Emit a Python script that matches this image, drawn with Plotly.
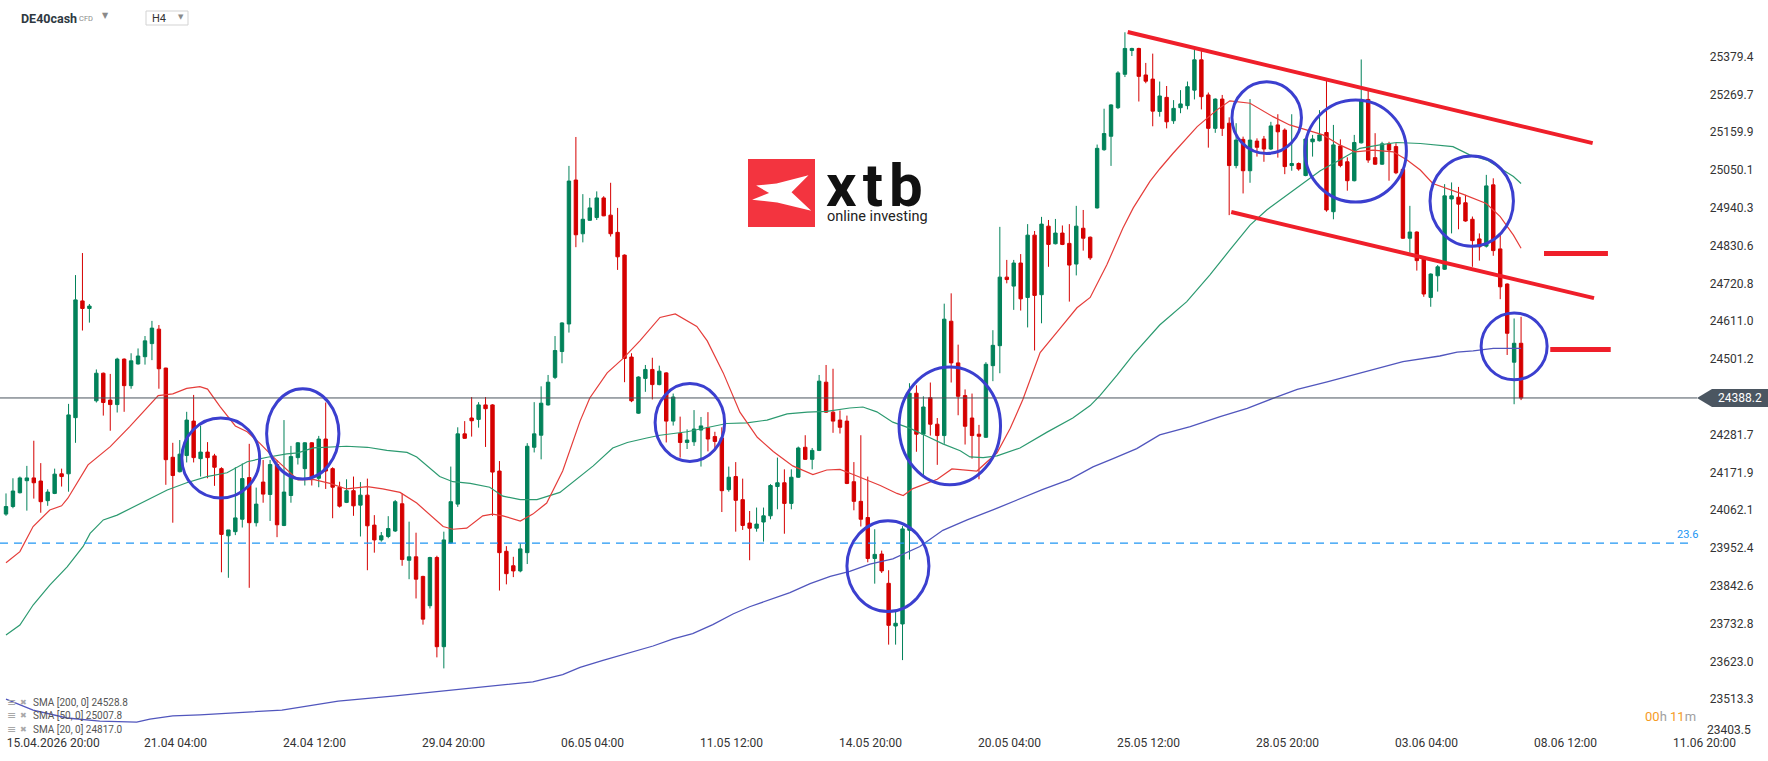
import plotly.graph_objects as go

# ---------------- data ----------------
opens = [24051,24073,24113,24148,24156,24147,24090,24111,24168,24168,24331,24670,24648,24380,24460,24382,24369,24501,24424,24487,
         24508,24546,24588,24475,24216,24174,24221,24321,24212,24231,24220,24183,23988,24000,24036,24157,24026,24144,24108,24195,
         24018,24105,24215,24183,24258,24155,24269,24183,24129,24085,24119,24077,24106,24019,23976,23986,24002,24081,23917,23927,
         23870,23785,23925,23666,23967,24080,24284,24330,24326,24368,24368,24176,23943,23901,23886,23939,24245,24280,24368,24448,
         24523,24603,25021,24865,24904,24912,24969,24919,24869,24803,24507,24344,24445,24471,24427,24461,24321,24285,24259,24261,
         24295,24302,24276,24272,24122,24160,24093,24025,24010,24028,24046,24131,24142,24082,24158,24245,24210,24236,24434,24347,
         24324,24321,24145,24088,24041,23922,23935,23850,23726,23732,24004,24402,24283,24389,24312,24279,24611,24490,24395,24330,
         24283,24274,24482,24540,24739,24713,24780,24680,24861,24688,24887,24836,24867,24837,24777,24881,24855,24940,25109,25148,
         25231,25328,25397,25403,25326,25314,25220,25261,25193,25231,25237,25282,25370,25268,25171,25256,25186,25063,25139,25048,
         25134,25140,25111,25181,25166,25063,25069,25034,25132,25135,25159,24929,25120,25074,25019,25129,25255,25086,25067,25126,
         25118,25052,24852,24870,24797,24680,24743,24762,24966,24971,24955,24907,24850,24829,25007,24821,24719,24492,24547]
highs = [24111,24155,24160,24191,24264,24199,24123,24183,24183,24371,24745,24809,24661,24471,24462,24458,24505,24503,24518,24532,
         24568,24612,24600,24476,24258,24266,24348,24397,24308,24260,24226,24187,24005,24187,24198,24255,24128,24208,24208,24208,
         24324,24249,24260,24260,24260,24278,24375,24187,24145,24152,24160,24144,24154,24048,23999,24045,24092,24111,24029,23997,
         23872,23927,23930,24000,24189,24303,24321,24391,24376,24391,24370,24205,23958,23927,23966,24257,24376,24422,24455,24568,
         24608,25062,25146,24980,24969,24988,24974,25013,24940,24805,24518,24451,24484,24505,24482,24463,24401,24334,24297,24353,
         24333,24347,24290,24303,24189,24202,24154,24060,24070,24070,24138,24215,24181,24181,24247,24280,24243,24455,24484,24473,
         24352,24337,24202,24280,24160,24007,23945,23888,23769,24016,24431,24425,24393,24433,24330,24662,24692,24543,24413,24401,
         24310,24492,24585,24885,24789,24789,24806,24893,24873,24914,24905,24908,24889,24893,24946,24934,24857,25124,25228,25241,
         25337,25450,25405,25405,25361,25388,25307,25294,25253,25282,25307,25400,25396,25275,25258,25268,25203,25186,25147,25256,
         25142,25149,25190,25212,25171,25212,25072,25142,25152,25224,25311,25181,25139,25087,25152,25371,25287,25157,25132,25132,
         25128,25054,24946,24872,24800,24750,24774,25009,25014,25001,24978,24915,24866,25036,25026,24866,24721,24619,24624]
lows = [24046,24068,24111,24061,24096,24055,24075,24109,24131,24116,24258,24584,24607,24375,24337,24293,24346,24348,24415,24485,
        24485,24498,24415,24136,24026,24172,24201,24201,24160,24155,24133,23882,23866,23990,24012,23837,24015,24084,24031,23984,
        24016,24084,24195,24134,24134,24129,24124,24039,24070,24083,24046,23986,23888,23939,23971,23981,23999,23901,23862,23806,
        23730,23777,23635,23603,23965,24072,24270,24276,24302,24246,24046,23829,23847,23868,23882,23906,24230,24210,24366,24443,
        24489,24578,24826,24840,24903,24905,24916,24857,24760,24434,24376,24342,24406,24384,24425,24259,24308,24215,24240,24249,
        24189,24233,24238,24057,24116,24000,24005,23917,24000,23971,24036,24065,23994,24065,24156,24208,24181,24234,24345,24287,
        24285,24138,24062,24015,23911,23849,23880,23672,23672,23627,23919,24232,24158,24279,24194,24255,24433,24338,24253,24212,
        24152,24272,24437,24460,24721,24644,24642,24593,24526,24605,24769,24834,24832,24668,24744,24816,24789,24938,25106,25062,
        25227,25320,25381,25249,25302,25177,25205,25171,25184,25215,25226,25255,25226,25115,25158,25149,24919,25055,24982,25013,
        25089,25074,25108,25086,25038,25048,25048,25032,25089,25133,24929,24907,25058,24990,25017,25127,25071,25065,25065,25019,
        25038,24850,24810,24758,24682,24653,24697,24760,24866,24878,24900,24769,24787,24825,24801,24675,24513,24370,24382]
closes = [24073,24118,24156,24156,24142,24087,24115,24167,24160,24339,24673,24648,24655,24460,24375,24369,24501,24424,24496,24510,
          24554,24591,24473,24209,24163,24225,24324,24215,24231,24215,24187,23992,24005,24040,24154,24026,24080,24109,24195,24020,
          24115,24218,24258,24258,24158,24269,24176,24129,24074,24119,24075,24106,24017,23976,23988,24009,24087,23919,23927,23862,
          23746,23925,23666,23976,24087,24284,24271,24322,24368,24357,24173,23939,23878,23886,23950,24248,24284,24373,24434,24526,
          24606,25018,24862,24907,24940,24969,24917,24865,24798,24503,24380,24449,24471,24427,24466,24321,24391,24259,24266,24298,
          24307,24269,24262,24119,24158,24091,24018,24010,24022,24046,24134,24142,24082,24158,24243,24210,24236,24437,24347,24321,
          24303,24140,24088,24036,23922,23934,23886,23728,23734,24008,24402,24283,24362,24312,24279,24617,24490,24393,24306,24279,
          24277,24486,24541,24739,24732,24780,24676,24861,24686,24893,24834,24867,24834,24774,24887,24852,24795,25113,25156,25239,
          25332,25403,25403,25322,25308,25221,25265,25190,25229,25242,25292,25370,25263,25171,25256,25171,25063,25137,25048,25137,
          25116,25111,25178,25161,25060,25069,25053,25140,25140,25152,24934,25123,25063,25019,25130,25255,25079,25067,25126,25108,
          25042,24852,24870,24787,24690,24748,24769,24975,24975,24951,24902,24845,24827,25004,24816,24711,24576,24547,24388.2]

sma20_x = [0,2,3.9,6.3,8,8.9,11.8,15,17.8,19.7,21.9,24,26,27.9,29,30.8,33,34.7,36.5,38.4,40.4,42,44.2,46.6,49,52,54.2,56.7,
           59.1,61.4,62.9,64.3,66.3,68.6,70,71.5,74,75.8,77.8,80.1,82.6,84,86.5,88.8,91.2,94.1,96.3,99.4,100.9,103.2,105.6,
           108.1,110.4,113.2,116.1,118.1,120,121.9,123.9,125.8,128.2,129.1,130.5,132.5,134,136.1,139.7,142.6,144.5,146.3,
           148.8,151.7,154.1,156,158.4,160.7,162.2,164.6,166,167.9,171.4,174.2,176.1,179,182.3,184.7,187.2,189.5,191.9,
           194.1,196.7,199.6,201.6,203.5,205.3,207.3,209.6,213,215,216.9,218]
sma20_y = [23910,23942,24015,24063,24075,24097,24194,24247,24305,24346,24395,24400,24416,24421,24414,24363,24307,24290,24257,
           24218,24181,24150,24152,24140,24124,24131,24124,24114,24083,24041,24015,24007,24010,24046,24051,24046,24031,24051,
           24083,24176,24321,24388,24461,24503,24554,24622,24632,24596,24554,24461,24347,24274,24233,24191,24166,24179,24181,
           24166,24150,24134,24111,24105,24125,24140,24152,24182,24176,24229,24300,24383,24520,24591,24650,24680,24775,24881,
           24940,25017,25053,25098,25176,25224,25251,25244,25205,25181,25166,25152,25123,25103,25108,25103,25079,25050,25011,
           24997,24980,24953,24915,24861,24823]
sma50_x = [0,2,3.9,6.3,8.8,11.1,12.1,14,16,18.3,20.7,23.2,26,28.9,31.8,34.7,37.6,40.4,42,44.2,49,52,54.8,57.7,59.1,60.6,
           62.4,64.3,66.8,69.6,71.5,74,76.4,79.7,81.6,84.5,87.3,89.4,92.2,94.1,98,101.3,103.7,106.6,109.5,112.4,115.3,118.1,
           121.4,123.3,125.3,127.6,130.1,132.5,134.8,137.3,138.7,140.6,142.6,145.9,149.8,153.5,156,157.4,159.9,162.2,164.6,
           166,169.9,173.2,176.1,179,181.4,184.3,187.2,189.1,191.9,194.8,197.7,200.1,203.5,208.2,210.6,213.1,215.4,216.9,218]
sma50_y = [23700,23729,23787,23845,23898,23957,23995,24034,24048,24071,24097,24121,24142,24160,24171,24203,24216,24226,24229,
           24243,24248,24245,24236,24230,24217,24191,24160,24145,24140,24129,24103,24093,24093,24114,24145,24191,24243,24259,
           24272,24280,24290,24305,24314,24316,24324,24342,24347,24349,24359,24362,24348,24318,24300,24277,24255,24235,24217,
           24215,24220,24243,24289,24330,24366,24395,24455,24514,24567,24600,24668,24745,24818,24890,24934,24977,25021,25048,
           25079,25113,25123,25130,25127,25118,25094,25079,25050,25031,25011]
sma200_x = [0,3.9,8.8,13.5,18.8,20.7,24,27.9,39.7,47.8,56,64,70.6,75.8,80.1,82.6,85.9,89.4,93.1,96,98.8,101.7,104.6,107,
            109.9,112.8,115.7,118.6,121.4,124.3,127.6,131.5,134.8,138.3,142,145.5,149.2,153.1,156.4,159.3,162.7,166,170.4,
            174.7,178.6,182.3,185.8,190.1,193.8,197.7,201,206.3,208.8,211.1,214,218]
sma200_y = [23514,23482,23459,23450,23447,23456,23465,23468,23482,23508,23523,23540,23554,23564,23585,23606,23626,23647,23668,
            23689,23704,23730,23761,23782,23803,23823,23849,23870,23885,23906,23921,23957,24004,24034,24063,24093,24123,24152,
            24188,24212,24241,24281,24305,24334,24358,24387,24413,24435,24455,24474,24494,24510,24521,24525,24532,24532]

x_tick_pos = [6.8, 24.4, 44.4, 64.4, 84.4, 104.4, 124.4, 144.4, 164.4, 184.4, 204.4, 224.4, 244.4]
x_tick_text = ["15.04.2026 20:00", "21.04 04:00", "24.04 12:00", "29.04 20:00", "06.05 04:00", "11.05 12:00",
               "14.05 20:00", "20.05 04:00", "25.05 12:00", "28.05 20:00", "03.06 04:00", "08.06 12:00", "11.06 20:00"]
y_tick_vals = [25379.4, 25269.7, 25159.9, 25050.1, 24940.3, 24830.6, 24720.8, 24611.0, 24501.2,
               24281.7, 24171.9, 24062.1, 23952.4, 23842.6, 23732.8, 23623.0, 23513.3]
last_price = 24388.2
fib_level = 23967
legend_lines = ["SMA [200, 0] 24528.8", "SMA [50, 0] 25007.8", "SMA [20, 0] 24817.0"]

# analyst drawings (index, price)
trend_upper = [(161.4, 25451), (228.3, 25128)]
trend_lower = [(176.3, 24928), (228.5, 24678)]
level_marks = [(221.3, 230.5, 24808), (222.2, 230.9, 24529)]
circles = [(30.9, 24214, 5.6, 116), (42.7, 24284, 5.2, 131), (98.4, 24317, 5.0, 113),
           (135.8, 24307, 7.3, 171), (126.9, 23900, 5.9, 132), (181.4, 25202, 5.0, 104),
           (194.2, 25105, 7.3, 148), (210.9, 24960, 6.0, 131), (217.0, 24538, 4.75, 97)]

# ---------------- figure ----------------
W, H = 1768, 761
PB = 734  # plot bottom (px)
X_RANGE = [-0.863, 253.53]
Y_RANGE = [23412.5, 25543.7]
G, R = "#02825a", "#d50000"

def pxx(x):
    return x / W

def pyy(y):
    return (PB - y) / PB

n = len(opens)
idx = list(range(n))

fig = go.Figure()
fig.add_trace(go.Scatter(x=sma200_x, y=sma200_y, mode="lines", line=dict(color="#5156bd", width=1.3), hoverinfo="skip"))
fig.add_trace(go.Scatter(x=sma50_x, y=sma50_y, mode="lines", line=dict(color="#2c9a70", width=1.2), hoverinfo="skip"))
fig.add_trace(go.Scatter(x=sma20_x, y=sma20_y, mode="lines", line=dict(color="#e53d3a", width=1.2), hoverinfo="skip"))
fig.add_trace(go.Candlestick(x=idx, open=opens, high=highs, low=lows, close=closes,
                             increasing=dict(line=dict(color=G, width=1), fillcolor=G),
                             decreasing=dict(line=dict(color=R, width=1), fillcolor=R),
                             whiskerwidth=0))

shapes = []
shapes.append(dict(type="line", xref="paper", yref="y", x0=0, x1=pxx(1697), y0=last_price, y1=last_price,
                   line=dict(color="#4a545e", width=1)))
shapes.append(dict(type="line", xref="paper", yref="y", x0=0, x1=pxx(1692), y0=fib_level, y1=fib_level,
                   line=dict(color="#2196f3", width=1.3, dash="8px,6px")))
for (a, b) in (trend_upper, trend_lower):
    shapes.append(dict(type="line", xref="x", yref="y", x0=a[0], y0=a[1], x1=b[0], y1=b[1],
                       line=dict(color="#ef1f2a", width=4)))
for (xa, xb, lv) in level_marks:
    shapes.append(dict(type="line", xref="x", yref="y", x0=xa, x1=xb, y0=lv, y1=lv,
                       line=dict(color="#ef1f2a", width=5)))
for (cx, cy, rx, ry) in circles:
    shapes.append(dict(type="circle", xref="x", yref="y", x0=cx - rx, x1=cx + rx, y0=cy - ry, y1=cy + ry,
                       line=dict(color="#3b3fcf", width=3)))

tag = "M {},{} L {},{} L {},{} L {},{} L {},{} Z".format(
    pxx(1697), pyy(398), pxx(1712), pyy(389), pxx(1768), pyy(389), pxx(1768), pyy(407), pxx(1712), pyy(407))
shapes.append(dict(type="path", xref="paper", yref="paper", path=tag, fillcolor="#4b5661", line=dict(width=0)))

# logo
shapes.append(dict(type="rect", xref="paper", yref="paper", x0=pxx(748), x1=pxx(815), y0=pyy(227), y1=pyy(159),
                   fillcolor="#f3343f", line=dict(width=0)))
lx0, ly0, s = 748, 159, 68
xpts = [(0.12, 0.39), (0.42, 0.36), (0.89, 0.24), (0.64, 0.49), (0.93, 0.76), (0.43, 0.64), (0.06, 0.60), (0.31, 0.50)]
p = "M " + " L ".join("{},{}".format(pxx(lx0 + u * s), pyy(ly0 + v * s)) for u, v in xpts) + " Z"
shapes.append(dict(type="path", xref="paper", yref="paper", path=p, fillcolor="white", line=dict(width=0)))

shapes.append(dict(type="rect", xref="paper", yref="paper", x0=pxx(146), x1=pxx(188), y0=pyy(25), y1=pyy(11),
                   fillcolor="white", line=dict(color="#d3d3d3", width=1)))

ann = []

def A(x, y, text, size=12, color="#333", xa="left", fam="Roboto", **kw):
    ann.append(dict(x=pxx(x), y=pyy(y), xref="paper", yref="paper", text=text, showarrow=False,
                    xanchor=xa, yanchor="middle", font=dict(family=fam, size=size, color=color), **kw))

A(19, 18, "<b>DE40cash</b>", 12.5, "#2f3942")
A(77, 19, "CFD", 7.5, "#8a8a8a")
A(105, 16, "▼", 8, "#8a8a8a", "center", "DejaVu Sans")
A(150, 18.5, "H4", 11, "#333")
A(180.5, 17, "▼", 7, "#8a8a8a", "center", "DejaVu Sans")
A(824, 186, "<b>x\u200at\u200ab</b>", 60, "#111")
A(825, 217, "online investing", 14.5, "#222")
A(1740, 398, "24388.2", 12, "white", "center")
A(1687, 534, "23.6", 11, "#2196f3", "center")
A(1753, 730, "23403.5", 12, "#333", "right")
A(1698, 716, "<span style='color:#f59b1f'>00</span>h <span style='color:#f59b1f'>11</span>m", 13, "#a0a0a0", "right")
for k, t in enumerate(legend_lines):
    yy = 702 + 13.7 * k
    A(5, yy, "≡", 11, "#a8a8a8", fam="DejaVu Sans")
    A(18, yy, "✖", 8, "#a8a8a8", fam="DejaVu Sans")
    A(31, yy, t, 10, "#555")

fig.update_layout(
    width=W, height=H, margin=dict(l=0, r=0, t=0, b=H - PB),
    paper_bgcolor="white", plot_bgcolor="white", showlegend=False,
    shapes=shapes, annotations=ann,
    xaxis=dict(range=X_RANGE, rangeslider=dict(visible=False), showgrid=False, zeroline=False, showline=False,
               tickmode="array", tickvals=x_tick_pos, ticktext=x_tick_text, ticks="",
               tickfont=dict(family="Roboto", size=12, color="#333")),
    yaxis=dict(range=Y_RANGE, side="right", showgrid=False, zeroline=False, showline=False,
               tickmode="array", tickvals=y_tick_vals, ticktext=["%.1f" % v for v in y_tick_vals],
               ticklabelposition="inside", ticks="inside", ticklen=14, tickcolor="rgba(0,0,0,0)",
               tickfont=dict(family="Roboto", size=12, color="#333")),
)
fig.write_html("out.html")
